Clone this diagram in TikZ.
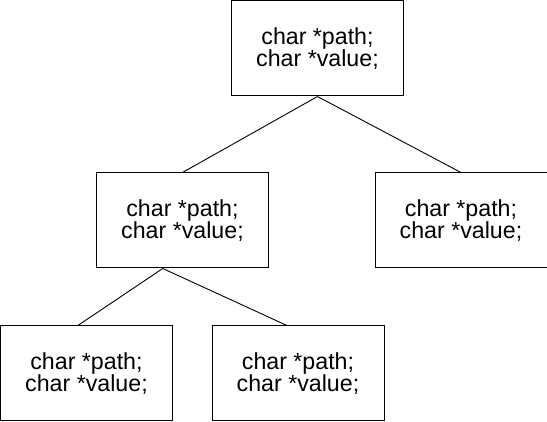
\documentclass[tikz,border=0pt]{standalone}
\usepackage{fontspec}
\setmainfont{Liberation Sans}
\usetikzlibrary{calc}

\begin{document}
\begin{tikzpicture}[x=0.5pt,y=-0.5pt]

\tikzset{BoxStyle/.style={draw,line width=0.5pt,minimum width=86pt,minimum height=47.5pt,
  align=center,inner sep=0pt,font=\fontsize{11.6pt}{11.2pt}\selectfont}}
\tikzset{EdgeStyle/.style={line width=0.45pt}}
  \useasboundingbox (0,0) rectangle (547,422);

  \node[BoxStyle] (n0) at (317.5, 48.5) {char *path;\\char *value;};

  \node[BoxStyle] (n1) at (182.5, 220.5) {char *path;\\char *value;};
  \node[BoxStyle] (n2) at (461, 220.5) {char *path;\\char *value;};

  \node[BoxStyle] (n11) at (86.5, 373.5) {char *path;\\char *value;};
  \node[BoxStyle] (n12) at (298, 373.5) {char *path;\\char *value;};

  \coordinate (n1b) at ($(n1.south west)!0.386!(n1.south east)$);
  \coordinate (n11t) at ($(n11.north west)!0.45!(n11.north east)$);
  \coordinate (n12t) at ($(n12.north west)!0.436!(n12.north east)$);

  \draw[EdgeStyle] (n0.south) -- (n1.north);
  \draw[EdgeStyle] (n0.south) -- (n2.north);

  \draw[EdgeStyle] (n1b) -- (n11t);
  \draw[EdgeStyle] (n1b) -- (n12t);

\end{tikzpicture}
\end{document}
